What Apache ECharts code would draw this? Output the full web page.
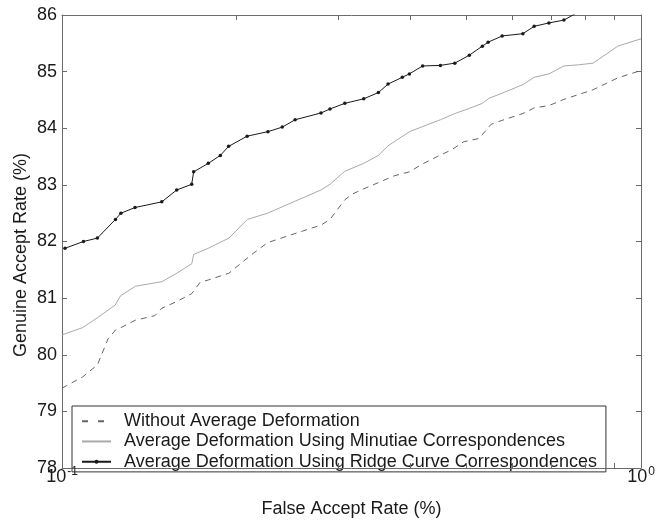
<!DOCTYPE html>
<html>
<head>
<meta charset="utf-8">
<script src="https://cdn.jsdelivr.net/npm/echarts@6/dist/echarts.min.js"></script>
<style>
html,body{margin:0;padding:0;background:#fff;}
#chart{width:667px;height:523px;}
</style>
</head>
<body>
<div id="chart"></div>
<script>
// ---- Data ----
const seriesNames = [
  'Without Average Deformation',
  'Average Deformation Using Minutiae Correspondences',
  'Average Deformation Using Ridge Curve Correspondences'
];

const farWithout = [0.1, 0.1086, 0.1151, 0.1201, 0.1238, 0.1264, 0.1339, 0.1446, 0.1487, 0.1578, 0.1676, 0.1732, 0.1789, 0.1942, 0.2045, 0.2139, 0.2265, 0.2525, 0.2801, 0.2903, 0.3081, 0.3176, 0.3320, 0.3519, 0.3748, 0.3981, 0.4196, 0.4467, 0.4713, 0.4935, 0.5253, 0.5510, 0.5757, 0.6252, 0.6539, 0.6934, 0.7360, 0.8265, 0.9119, 1.0];
const garWithout = [79.41, 79.61, 79.82, 80.28, 80.44, 80.48, 80.61, 80.69, 80.82, 80.94, 81.08, 81.28, 81.32, 81.44, 81.63, 81.79, 81.98, 82.14, 82.29, 82.39, 82.74, 82.84, 82.93, 83.04, 83.16, 83.23, 83.37, 83.51, 83.62, 83.76, 83.82, 84.07, 84.14, 84.26, 84.36, 84.40, 84.51, 84.68, 84.89, 85.02];

const farMinutiae = [0.1, 0.1086, 0.1150, 0.1236, 0.1262, 0.1339, 0.1487, 0.1579, 0.1676, 0.1688, 0.1789, 0.1942, 0.2090, 0.2265, 0.2525, 0.2801, 0.2903, 0.3079, 0.3320, 0.3519, 0.3657, 0.3984, 0.4196, 0.4503, 0.4769, 0.5052, 0.5321, 0.5467, 0.5757, 0.6252, 0.6539, 0.6934, 0.7360, 0.7801, 0.8265, 0.9119, 1.0];
const garMinutiae = [80.35, 80.48, 80.65, 80.88, 81.04, 81.21, 81.29, 81.44, 81.61, 81.77, 81.88, 82.06, 82.39, 82.50, 82.71, 82.91, 83.01, 83.24, 83.38, 83.52, 83.69, 83.94, 84.03, 84.15, 84.26, 84.35, 84.44, 84.53, 84.62, 84.77, 84.90, 84.96, 85.10, 85.12, 85.15, 85.45, 85.58];

const farRidge = [0.1012, 0.1089, 0.1151, 0.1237, 0.1264, 0.1337, 0.1487, 0.1578, 0.1675, 0.1688, 0.1789, 0.1877, 0.1940, 0.2088, 0.2268, 0.2401, 0.2527, 0.2801, 0.2903, 0.3079, 0.3320, 0.3519, 0.3657, 0.3870, 0.3981, 0.4196, 0.4503, 0.4769, 0.5052, 0.5321, 0.5445, 0.5757, 0.6252, 0.6539, 0.6934, 0.7360, 0.8200];
const garRidge = [81.88, 82.00, 82.06, 82.39, 82.50, 82.60, 82.70, 82.91, 83.01, 83.23, 83.38, 83.52, 83.68, 83.86, 83.94, 84.02, 84.15, 84.27, 84.34, 84.44, 84.52, 84.63, 84.78, 84.90, 84.96, 85.10, 85.11, 85.15, 85.29, 85.45, 85.52, 85.63, 85.67, 85.80, 85.86, 85.91, 86.18];

const xMinorTicks = [0.1, 0.2, 0.3, 0.4, 0.5, 0.6, 0.7, 0.8, 0.9, 1];
const xLabelTicks = [0.1, 1];
const yMin = 78, yMax = 86, yStep = 1;
const xTitle = 'False Accept Rate (%)';
const yTitle = 'Genuine Accept Rate (%)';

// ---- Chart ----
const FONT = '"Liberation Sans", Arial, Helvetica, sans-serif';
const AX = '#6a6a6a';
const TXT = '#1a1a1a';

function pairs(xs, ys) { return xs.map((x, i) => [x, ys[i]]); }

const chart = echarts.init(document.getElementById('chart'), null, {renderer: 'canvas'});

const xAxisBase = {
  type: 'log', logBase: 10, min: 0.1, max: 1,
  axisLine: {show: true, lineStyle: {color: AX, width: 1}},
  axisTick: {show: true, inside: true, length: 5, customValues: xMinorTicks, lineStyle: {color: AX}},
  splitLine: {show: false},
  minorTick: {show: false}
};

const yAxisBase = {
  type: 'value', min: yMin, max: yMax, interval: yStep,
  axisLine: {show: true, lineStyle: {color: AX, width: 1}},
  axisTick: {show: true, inside: true, length: 5, lineStyle: {color: AX}},
  splitLine: {show: false}
};

chart.setOption({
  animation: false,
  backgroundColor: '#fff',
  textStyle: {fontFamily: FONT},
  grid: {left: 62, right: 26, top: 15, bottom: 52, containLabel: false},
  xAxis: [
    Object.assign({}, xAxisBase, {
      position: 'bottom', z: 10,
      name: xTitle, nameLocation: 'middle', nameGap: 32,
      nameTextStyle: {fontSize: 18, color: TXT, fontFamily: FONT},
      axisLabel: {
        show: true, margin: 0, customValues: xLabelTicks,
        formatter: function (v) {
          const p = Math.round(Math.log10(v));
          return '{b|10}{s|' + p + '}';
        },
        rich: {
          b: {fontSize: 18, color: TXT, fontFamily: FONT, verticalAlign: 'bottom', lineHeight: 18},
          s: {fontSize: 12, color: TXT, fontFamily: FONT, verticalAlign: 'bottom', lineHeight: 12, padding: [0, 0, 8, 1]}
        }
      }
    }),
    Object.assign({}, xAxisBase, {
      position: 'top', axisLabel: {show: false}
    })
  ],
  yAxis: [
    Object.assign({}, yAxisBase, {
      position: 'left',
      axisLabel: {show: true, margin: 5, fontSize: 18, color: TXT, fontFamily: FONT}
    }),
    Object.assign({}, yAxisBase, {
      position: 'right', axisLabel: {show: false}
    })
  ],
  legend: {
    left: 72, top: 406, orient: 'vertical',
    itemGap: 0, itemWidth: 29, itemHeight: 5,
    padding: [5, 9, 0, 9],
    borderColor: '#333', borderWidth: 1, backgroundColor: '#fff',
    textStyle: {fontSize: 18, color: TXT, fontFamily: FONT, lineHeight: 20.3, padding: [0, 0, 0, 8]},
    data: [
      {name: seriesNames[0], itemStyle: {color: 'rgba(0,0,0,0)', borderWidth: 0}, lineStyle: {type: [6, 10]}},
      {name: seriesNames[1], itemStyle: {color: 'rgba(0,0,0,0)', borderWidth: 0}},
      {name: seriesNames[2]}
    ]
  },
  graphic: [{
    type: 'text', x: 21.5, y: 255, rotation: Math.PI / 2,
    style: {text: yTitle, fontSize: 18, fill: TXT, fontFamily: FONT, align: 'center', verticalAlign: 'middle'}
  }],
  series: [
    {
      name: seriesNames[0], type: 'line', data: pairs(farWithout, garWithout),
      symbol: 'none', color: '#666',
      lineStyle: {color: '#666', width: 1, type: [6, 5]}, clip: true
    },
    {
      name: seriesNames[1], type: 'line', data: pairs(farMinutiae, garMinutiae),
      symbol: 'none', color: '#aaa',
      lineStyle: {color: '#aaa', width: 1}, clip: true
    },
    {
      name: seriesNames[2], type: 'line', data: pairs(farRidge, garRidge),
      symbol: 'circle', symbolSize: 3.5, color: '#1a1a1a',
      itemStyle: {color: '#1a1a1a'},
      lineStyle: {color: '#1a1a1a', width: 1}, clip: true
    }
  ]
});
</script>
</body>
</html>
